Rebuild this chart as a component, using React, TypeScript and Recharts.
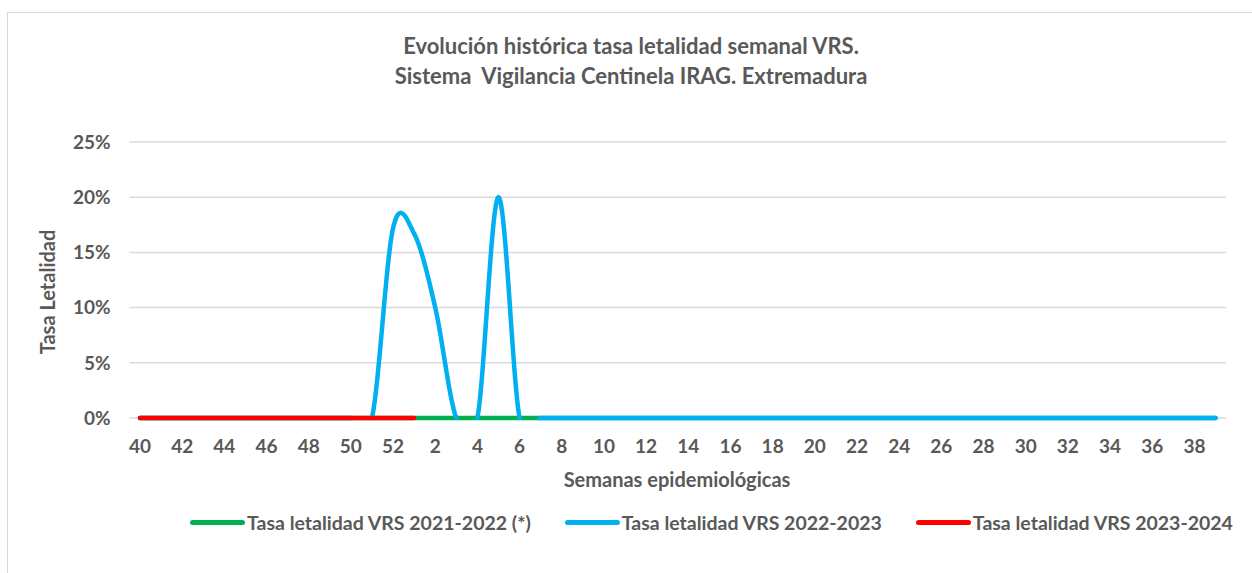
import React from 'react';
import { LineChart, Line, XAxis, YAxis, CartesianGrid, Legend } from 'recharts';

// Semanas epidemiológicas (temporada 40 -> 39)
const weeks = [
  40, 41, 42, 43, 44, 45, 46, 47, 48, 49, 50, 51, 52,
  1, 2, 3, 4, 5, 6, 7, 8, 9, 10, 11, 12, 13, 14, 15, 16, 17, 18, 19, 20,
  21, 22, 23, 24, 25, 26, 27, 28, 29, 30, 31, 32, 33, 34, 35, 36, 37, 38, 39,
];

const rate2122 = [
  0, 0, 0, 0, 0, 0, 0, 0, 0, 0, 0, 0, 0,
  0, 0, 0, 0, 0, 0, 0, 0, 0, 0, 0, 0, 0, 0, 0, 0, 0, 0, 0, 0,
  0, 0, 0, 0, 0, 0, 0, 0, 0, 0, 0, 0, 0, 0, 0, 0, 0, 0, 0,
];

const rate2223 = [
  0, 0, 0, 0, 0, 0, 0, 0, 0, 0, 0, 0, 0.172,
  0.167, 0.1, 0, 0, 0.2, 0, 0, 0, 0, 0, 0, 0, 0, 0, 0, 0, 0, 0, 0, 0,
  0, 0, 0, 0, 0, 0, 0, 0, 0, 0, 0, 0, 0, 0, 0, 0, 0, 0, 0,
];

const rate2324 = [0, 0, 0, 0, 0, 0, 0, 0, 0, 0, 0, 0, 0, 0];

const yTicks = [0, 0.05, 0.1, 0.15, 0.2, 0.25];

const SERIES = [
  { key: 's2122', name: 'Tasa letalidad VRS 2021-2022 (*)', color: '#00B050' },
  { key: 's2223', name: 'Tasa letalidad VRS 2022-2023', color: '#00B0F0' },
  { key: 's2324', name: 'Tasa letalidad VRS 2023-2024', color: '#FF0000' },
];

const data = weeks.map((w, i) => ({
  week: String(w),
  s2122: rate2122[i],
  s2223: rate2223[i],
  s2324: i < rate2324.length ? rate2324[i] : null,
}));

const FONT = 'Lato, "Open Sans", sans-serif';
const TEXT = '#595959';

// Excel-like smoothed line: Catmull-Rom bezier, parts dipping below the axis are hidden
const excelCurve = (context: any) => {
  let pts: [number, number][] = [];
  return {
    areaStart() {},
    areaEnd() {},
    lineStart() {
      pts = [];
    },
    point(x: number, y: number) {
      pts.push([+x, +y]);
    },
    lineEnd() {
      if (!pts.length) return;
      const base = Math.max(...pts.map((p) => p[1]));
      let pen = false;
      const emit = (x: number, y: number) => {
        if (y > base + 0.6) {
          pen = false;
          return;
        }
        if (!pen) {
          context.moveTo(x, y);
          pen = true;
        } else {
          context.lineTo(x, y);
        }
      };
      emit(pts[0][0], pts[0][1]);
      const N = 24;
      for (let i = 0; i < pts.length - 1; i++) {
        const p0 = pts[i - 1] || pts[i];
        const p1 = pts[i];
        const p2 = pts[i + 1];
        const p3 = pts[i + 2] || p2;
        const c1x = p1[0] + (p2[0] - p0[0]) / 6;
        const c1y = p1[1] + (p2[1] - p0[1]) / 6;
        const c2x = p2[0] - (p3[0] - p1[0]) / 6;
        const c2y = p2[1] - (p3[1] - p1[1]) / 6;
        for (let k = 1; k <= N; k++) {
          const t = k / N;
          const u = 1 - t;
          const x = u * u * u * p1[0] + 3 * u * u * t * c1x + 3 * u * t * t * c2x + t * t * t * p2[0];
          const y = u * u * u * p1[1] + 3 * u * u * t * c1y + 3 * u * t * t * c2y + t * t * t * p2[1];
          emit(x, y);
        }
      }
    },
  };
};

const LegendContent = () => (
  <div style={{ display: 'flex', alignItems: 'center', fontFamily: FONT, fontWeight: 700, fontSize: 19.5, color: TEXT }}>
    {SERIES.map((s, i) => (
      <div key={s.key} style={{ display: 'flex', alignItems: 'center', marginLeft: i === 0 ? 190 : 34 }}>
        <span style={{ display: 'inline-block', width: 55, height: 5, borderRadius: 3, background: s.color, marginRight: 2 }} />
        <span>{s.name}</span>
      </div>
    ))}
  </div>
);

export default function App() {
  return (
    <div style={{ position: 'fixed', left: 0, top: 0, width: 1252, height: 573, background: '#fff' }}>
      <div
        style={{
          position: 'absolute', left: 7, top: 12, width: 1260, height: 580,
          border: '1.5px solid #D9D9D9', boxSizing: 'border-box',
        }}
      />
      <div
        style={{
          position: 'absolute', left: 0, top: 31, width: 1262, textAlign: 'center',
          fontFamily: FONT, fontWeight: 700, fontSize: 22, lineHeight: '30px', color: TEXT,
        }}
      >
        Evolución histórica tasa letalidad semanal VRS.
        <br />
        Sistema&nbsp;&nbsp;Vigilancia Centinela IRAG. Extremadura
      </div>
      <div style={{ position: 'absolute', left: 0, top: 0 }}>
        <LineChart
          width={1252}
          height={573}
          data={data}
          margin={{ top: 142, right: 26, bottom: 125, left: 29.5 }}
        >
          <CartesianGrid horizontal vertical={false} stroke="#D9D9D9" strokeWidth={1.5} />
          <XAxis
            dataKey="week"
            height={30}
            interval={1}
            axisLine={false}
            tickLine={false}
            tickSize={0}
            tickMargin={22}
            padding={{ left: 10.5, right: 10.5 }}
            tick={{ fill: TEXT, fontFamily: FONT, fontWeight: 700, fontSize: 19 }}
            label={() => (
              <text x={677} y={479} textAnchor="middle" dominantBaseline="central" fill={TEXT}
                style={{ fontFamily: FONT, fontWeight: 700, fontSize: 20 }}>
                Semanas epidemiológicas
              </text>
            )}
          />
          <YAxis
            width={100}
            domain={[0, 0.25]}
            ticks={yTicks}
            axisLine={false}
            tickLine={false}
            tickSize={0}
            tickMargin={19}
            tickFormatter={(v: number) => `${Math.round(v * 100)}%`}
            tick={{ fill: TEXT, fontFamily: FONT, fontWeight: 700, fontSize: 19 }}
            label={() => (
              <text x={47} y={292} transform="rotate(-90 47 292)" textAnchor="middle" dominantBaseline="central"
                fill={TEXT} style={{ fontFamily: FONT, fontWeight: 700, fontSize: 20 }}>
                Tasa Letalidad
              </text>
            )}
          />
          <Legend
            layout="horizontal"
            verticalAlign="middle"
            align="center"
            wrapperStyle={{ top: 511, left: 0, width: 1252 }}
            content={() => <LegendContent />}
          />
          {SERIES.map((s) => (
            <Line
              key={s.key}
              dataKey={s.key}
              name={s.name}
              type={excelCurve as any}
              stroke={s.color}
              strokeWidth={4.5}
              strokeLinecap="round"
              strokeLinejoin="round"
              dot={false}
              activeDot={false}
              connectNulls={false}
              isAnimationActive={false}
            />
          ))}
        </LineChart>
      </div>
    </div>
  );
}
